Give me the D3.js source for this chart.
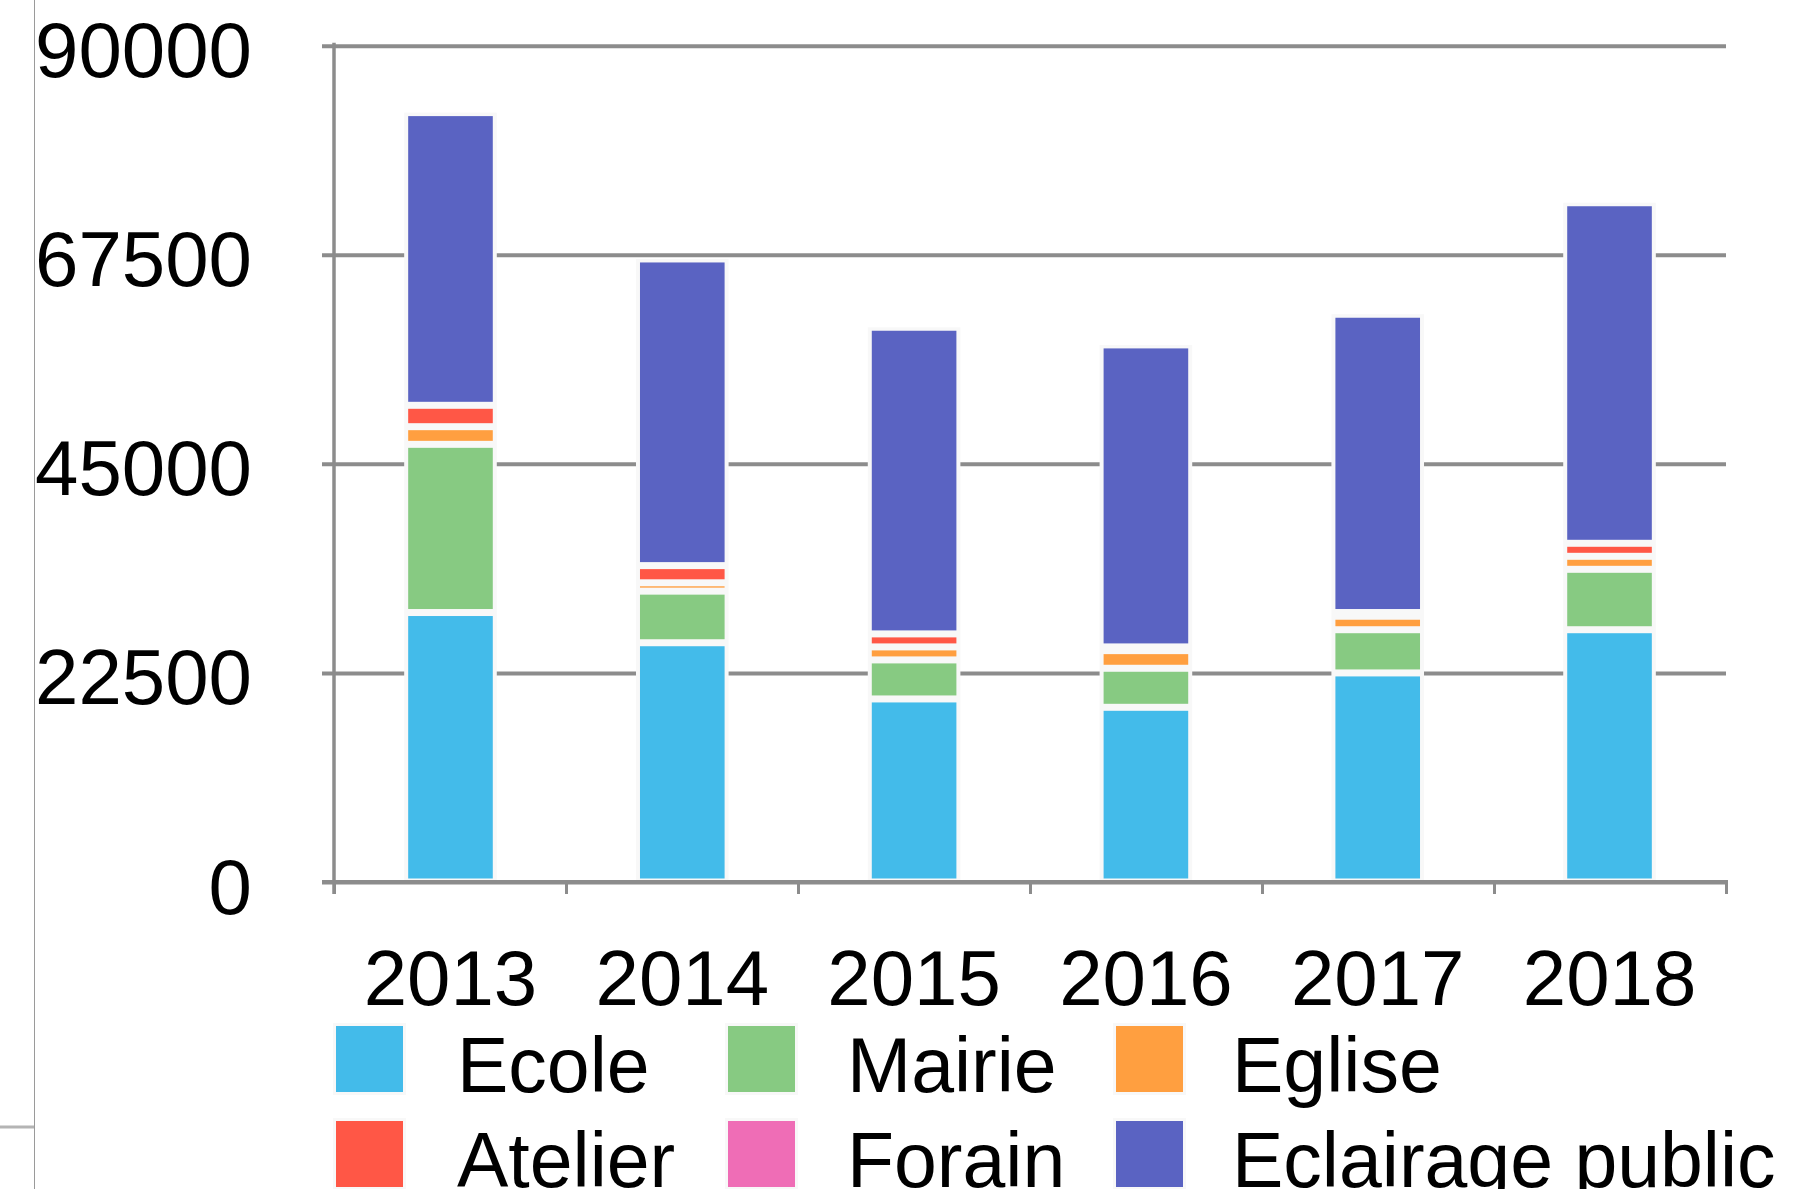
<!DOCTYPE html>
<html>
<head>
<meta charset="utf-8">
<script src="https://cdn.jsdelivr.net/npm/d3@7"></script>
<style>
  body { margin: 0; background: #fff; }
  text { font-family: "Liberation Sans", Arial, sans-serif; fill: #000; }
</style>
</head>
<body>
<div class="chart"></div>
<script>
const years = ["2013", "2014", "2015", "2016", "2017", "2018"];
const series = ["Ecole", "Mairie", "Eglise", "Atelier", "Forain", "Eclairage public"];
const ecole = [29000, 25750, 19700, 18800, 22500, 27150];
const mairie = [18100, 5550, 4200, 4200, 4650, 6500];
const eglise = [1900, 900, 1400, 1900, 1450, 1400];
const atelier = [2300, 1850, 1400, 400, 400, 1400];
const forain = [0, 0, 0, 0, 0, 0];
const eclairage = [31500, 33000, 33000, 32500, 32100, 36650];
const yTicks = [0, 22500, 45000, 67500, 90000];

const colors = ["#43bbea", "#87ca82", "#ff9f40", "#ff5746", "#ef6db6", "#5a63c2"];

const width = 1808;
const height = 1189;

const plotLeft = 334;   // y axis line
const plotRight = 1726;
const gap = 3.5;        // half of the light gap between stacked segments

// rows for d3.stack
const rows = years.map((yr, i) => ({
  year: yr,
  "Ecole": ecole[i],
  "Mairie": mairie[i],
  "Eglise": eglise[i],
  "Atelier": atelier[i],
  "Forain": forain[i],
  "Eclairage public": eclairage[i]
}));

const stacked = d3.stack().keys(series)(rows);

const svg = d3.select(".chart")
    .append("svg")
    .attr("width", width)
    .attr("height", height);

const x = d3.scaleBand()
    .domain(years)
    .range([plotLeft, plotRight])
    .paddingInner(0.635)
    .paddingOuter(0.32);

const y = d3.scaleLinear()
    .domain([0, 90000])
    .range([882, 45.7]);

const colScale = d3.scaleOrdinal().domain(series).range(colors);

// stray frame lines on the left edge
svg.append("line")
    .attr("x1", 34.5).attr("x2", 34.5)
    .attr("y1", 0).attr("y2", height)
    .style("stroke", "#9a9a9a")
    .style("stroke-width", 1);

svg.append("line")
    .attr("x1", 0).attr("x2", 34)
    .attr("y1", 1127).attr("y2", 1127)
    .style("stroke", "#b4b4b4")
    .style("stroke-width", 3);

// gridlines + y labels
const yAxis = svg.append("g")
    .attr("class", "y-axis")
    .attr("transform", "translate(322,0)")
    .call(d3.axisLeft(y)
      .tickValues(yTicks)
      .tickFormat(d3.format("d"))
      .tickSizeInner(-(plotRight - 322))
      .tickSizeOuter(0)
      .tickPadding(70));

yAxis.select(".domain").remove();
yAxis.selectAll(".tick line")
    .style("stroke", "#8c8c8c")
    .style("stroke-width", 4);
yAxis.selectAll(".tick text")
    .attr("dy", 31)
    .style("font-size", "78px")
    .style("font-family", "Liberation Sans, Arial, sans-serif")
    .style("fill", "#000");

// vertical axis line
svg.append("line")
    .attr("x1", plotLeft).attr("x2", plotLeft)
    .attr("y1", y(90000) - 3).attr("y2", y(0) + 12)
    .style("stroke", "#8c8c8c")
    .style("stroke-width", 3.5);

// bars: light frame behind, coloured segments inset
const bars = svg.selectAll(".bar")
    .data(rows)
    .enter()
    .append("g")
    .attr("class", "bar");

bars.append("rect")
    .attr("x", d => x(d.year) - 4)
    .attr("width", x.bandwidth() + 8)
    .attr("y", (d, i) => y(stacked[stacked.length - 1][i][1]))
    .attr("height", (d, i) => y(0) - y(stacked[stacked.length - 1][i][1]))
    .style("fill", "#f8f8f8");

svg.selectAll(".layer")
    .data(stacked)
    .enter()
    .append("g")
    .attr("class", "layer")
    .style("fill", d => colScale(d.key))
    .selectAll("rect")
    .data(d => d.filter(s => (y(s[0]) - y(s[1])) > 2 * gap))
    .enter()
    .append("rect")
    .attr("x", d => x(d.data.year))
    .attr("width", x.bandwidth())
    .attr("y", d => y(d[1]) + gap)
    .attr("height", d => y(d[0]) - y(d[1]) - 2 * gap);

// bottom axis with ticks between categories
const edgeScale = d3.scaleLinear().domain([0, years.length]).range([plotLeft, plotRight]);

const xAxis = svg.append("g")
    .attr("class", "x-axis")
    .attr("transform", "translate(0," + y(0) + ")")
    .call(d3.axisBottom(edgeScale)
      .tickValues(d3.range(0, years.length + 1))
      .tickFormat("")
      .tickSizeInner(12)
      .tickSizeOuter(0));

xAxis.select(".domain")
    .attr("d", "M322,0H" + (plotRight + 2))
    .style("stroke", "#8c8c8c")
    .style("stroke-width", 4);
xAxis.selectAll(".tick line")
    .style("stroke", "#8c8c8c")
    .style("stroke-width", 3);

// year labels
svg.selectAll(".year")
    .data(years)
    .enter()
    .append("text")
    .attr("class", "year")
    .attr("x", d => x(d) + x.bandwidth() / 2)
    .attr("y", 1005)
    .style("text-anchor", "middle")
    .style("font-size", "78px")
    .text(d => d);

// legend, 3 columns x 2 rows (second row runs off the bottom like the original)
const legendCols = [336, 728, 1116];
const legendTextX = [121, 119, 116];
const legendRows = [1026, 1121];

const legend = svg.selectAll(".legend")
    .data(series)
    .enter()
    .append("g")
    .attr("class", "legend")
    .attr("transform", function(d, i) {
      return "translate(" + [legendCols[i % 3], legendRows[Math.floor(i / 3)]] + ")";
    });

legend.append("rect")
    .attr("x", -3).attr("y", -3)
    .attr("width", 73).attr("height", 72)
    .style("fill", "#f8f8f8");

legend.append("rect")
    .attr("width", 67).attr("height", 66)
    .style("fill", d => colScale(d));

legend.append("text")
    .attr("x", (d, i) => legendTextX[i % 3])
    .attr("y", 66)
    .style("font-size", "77px")
    .text(d => d);
</script>
</body>
</html>
